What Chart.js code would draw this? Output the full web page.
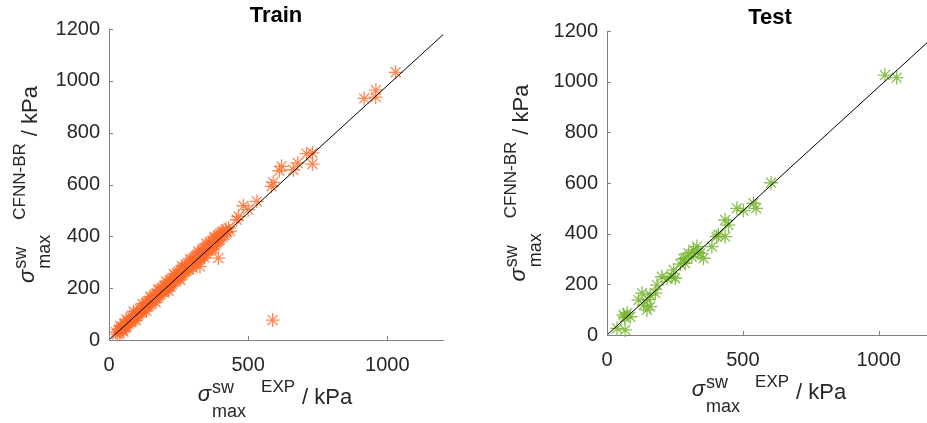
<!DOCTYPE html>
<html>
<head>
<meta charset="utf-8">
<script src="https://cdn.jsdelivr.net/npm/chart.js@4.4.1/dist/chart.umd.min.js"></script>
<style>
  html, body { margin: 0; padding: 0; background: #fff; overflow: hidden; }
  #wrap { position: relative; width: 927px; height: 423px; overflow: hidden; }
  canvas { position: absolute; top: 0; }
  #train { left: 0; }
  #test { left: 470px; }
</style>
</head>
<body>
<div id="wrap">
  <canvas id="train" width="470" height="423"></canvas>
  <canvas id="test" width="480" height="423"></canvas>
</div>
<script>
// measured (EXP) vs predicted (CFNN-BR) max swelling pressure, kPa
const trainX = [
  25, 30, 35, 38, 42, 45, 48, 50, 55, 58, 60, 63, 66, 70, 72, 75, 78, 80, 84, 86,
  90, 92, 95, 98, 100, 104, 106, 110, 112, 115, 118, 120, 124, 126, 130, 132, 135, 138, 140, 144,
  146, 150, 152, 155, 158, 160, 164, 166, 170, 172, 175, 178, 180, 184, 186, 190, 192, 195, 198, 200,
  204, 206, 210, 212, 215, 218, 220, 224, 226, 230, 232, 235, 238, 240, 244, 246, 250, 252, 255, 258,
  260, 264, 266, 270, 272, 275, 278, 280, 284, 286, 290, 292, 295, 298, 300, 304, 306, 310, 312, 315,
  318, 320, 324, 326, 330, 332, 335, 338, 340, 344, 346, 350, 352, 355, 358, 360, 364, 366, 370, 372,
  375, 378, 380, 384, 386, 390, 392, 395, 398, 400, 404, 408, 410, 415, 420, 425, 430, 435,
  40, 62, 88, 120, 148, 176, 205, 233, 262, 291, 320, 349, 378, 52, 96, 134, 168, 214, 256, 302, 342, 372,
  327, 393, 459, 465, 483, 500, 531, 584, 590, 588, 612, 620, 662, 678, 710, 731, 731,
  917, 958, 959, 1030
];
const trainY = [
  30, 22, 40, 28, 45, 36, 52, 40, 48, 60, 50, 55, 70, 62, 75, 68, 80, 72, 88, 78,
  95, 84, 90, 102, 92, 110, 98, 105, 118, 108, 122, 112, 130, 118, 125, 140, 128, 145, 132, 150,
  138, 145, 160, 148, 165, 152, 170, 158, 162, 180, 168, 190, 172, 195, 176, 185, 200, 186, 208, 190,
  212, 196, 202, 220, 205, 228, 210, 232, 215, 222, 240, 226, 248, 230, 255, 236, 242, 262, 246, 270,
  250, 275, 255, 262, 282, 265, 290, 270, 295, 274, 282, 302, 285, 310, 290, 315, 295, 300, 322, 305,
  330, 308, 336, 314, 320, 342, 325, 350, 328, 355, 332, 340, 362, 345, 370, 348, 375, 352, 360, 382,
  365, 390, 366, 395, 372, 380, 402, 385, 410, 388, 415, 398, 420, 405, 428, 415, 432, 420,
  55, 80, 110, 140, 168, 195, 226, 255, 285, 312, 342, 372, 398, 32, 76, 112, 145, 190, 232, 278, 318, 350,
  283, 316, 464, 477, 518, 503, 535, 593, 608, 77, 653, 670, 657, 683, 719, 722, 679,
  932, 937, 964, 1033
];

const testX = [
  1023, 1066, 604, 549, 502, 478, 539, 435, 447, 435, 404, 410, 386, 343, 355, 318, 300, 288, 288, 312,
  331, 335, 282, 270, 245, 239, 251, 221, 202, 184, 178, 159, 129, 116, 135, 159, 147, 150, 61, 74,
  86, 65, 37, 67
];
const testY = [
  1026, 1016, 601, 500, 491, 500, 520, 454, 434, 388, 388, 395, 349, 322, 303, 336, 322, 303, 283, 309,
  349, 325, 300, 280, 257, 230, 224, 224, 230, 197, 165, 158, 165, 138, 118, 112, 99, 140, 79, 86,
  72, 70, 26, 20
];

// reference fit lines
const trainFitX = [0, 1200];
const trainFitY = [0, 1178];
const testFitX = [0, 1200];
const testFitY = [0, 1175];

const xTicks = [0, 500, 1000];
const yTicks = [0, 200, 400, 600, 800, 1000, 1200];

const FONT = "'Liberation Sans', Arial, Helvetica, sans-serif";
const AXIS_COLOR = '#808080';
const TEXT_COLOR = '#262626';

const toPoints = (xs, ys) => xs.map((v, i) => ({ x: v, y: ys[i] }));

// label pieces: main symbol with super/subscripts, then unit
const xLabelParts = [
  { text: 'σ', size: 22, italic: true },
  { text: 'sw', size: 18, gap: 1, shift: -8 },
  { text: 'max', size: 18, sameAsPrev: true, shift: 16 },
  { text: 'EXP', size: 17, gap: 15, shift: -9 },
  { text: '/ kPa', size: 22, gap: 7, shift: 3 }
];
const yLabelParts = [
  { text: 'σ', size: 22, italic: true },
  { text: 'sw', size: 18, gap: 1, shift: -8 },
  { text: 'max', size: 18, sameAsPrev: true, shift: 16 },
  { text: 'CFNN-BR', size: 17, gap: 15, shift: -9 },
  { text: '/ kPa', size: 22, gap: 7, shift: 3 }
];

function layoutParts(ctx, parts) {
  let prevStart = 0, maxEnd = 0;
  const laid = parts.map(p => {
    ctx.font = (p.italic ? 'italic ' : '') + p.size + 'px ' + FONT;
    const w = ctx.measureText(p.text).width;
    const start = p.sameAsPrev ? prevStart : maxEnd + (p.gap || 0);
    prevStart = start;
    maxEnd = Math.max(maxEnd, start + w);
    return { ...p, start, width: w, font: ctx.font };
  });
  return { laid, total: maxEnd };
}

function drawParts(ctx, parts, cx, cy, rotated) {
  const { laid, total } = layoutParts(ctx, parts);
  ctx.save();
  ctx.translate(cx, cy);
  if (rotated) ctx.rotate(-Math.PI / 2);
  ctx.fillStyle = TEXT_COLOR;
  ctx.textBaseline = 'alphabetic';
  ctx.textAlign = 'left';
  laid.forEach(p => {
    ctx.font = p.font;
    ctx.fillText(p.text, p.start - total / 2, p.shift || 0);
  });
  ctx.restore();
}

const decor = {
  id: 'decor',
  afterDraw(chart, args, opts) {
    const { ctx, chartArea: area, scales: { x, y } } = chart;
    ctx.save();
    // inward tick marks
    ctx.strokeStyle = AXIS_COLOR;
    ctx.lineWidth = 1;
    ctx.beginPath();
    x.ticks.forEach(t => {
      const px = Math.round(x.getPixelForValue(t.value)) + 0.5;
      ctx.moveTo(px, area.bottom);
      ctx.lineTo(px, area.bottom - 4);
    });
    y.ticks.forEach(t => {
      const py = Math.round(y.getPixelForValue(t.value)) + 0.5;
      ctx.moveTo(area.left, py);
      ctx.lineTo(area.left + 4, py);
    });
    ctx.stroke();

    // title
    ctx.fillStyle = '#000';
    ctx.font = 'bold 22px ' + FONT;
    ctx.textAlign = 'center';
    ctx.textBaseline = 'alphabetic';
    ctx.fillText(opts.title, (area.left + area.right) / 2, area.top - 7);
    ctx.restore();

    drawParts(ctx, xLabelParts, (area.left + area.right) / 2 + opts.xLabelDx, area.bottom + opts.xLabelDy, false);
    drawParts(ctx, yLabelParts, opts.yLabelX, (area.top + area.bottom) / 2, true);
  }
};

function makeChart(id, xs, ys, fitX, fitY, color, cfg) {
  new Chart(document.getElementById(id), {
    type: 'scatter',
    data: {
      datasets: [
        {
          type: 'line',
          data: toPoints(fitX, fitY),
          borderColor: '#000',
          borderWidth: 1,
          pointRadius: 0,
          fill: false
        },
        {
          data: toPoints(xs, ys),
          pointStyle: 'star',
          pointRadius: 7,
          borderColor: color,
          backgroundColor: color,
          borderWidth: 1.3,
          clip: false
        }
      ]
    },
    options: {
      responsive: false,
      animation: false,
      devicePixelRatio: 1,
      layout: { padding: cfg.padding },
      plugins: {
        legend: { display: false },
        tooltip: { enabled: false },
        decor: cfg.decor
      },
      scales: {
        x: {
          type: 'linear',
          min: 0,
          max: 1200,
          afterBuildTicks: s => { s.ticks = xTicks.map(v => ({ value: v })); },
          afterFit: s => { s.height = cfg.xHeight; },
          grid: { display: false, drawTicks: false },
          border: { display: true, color: AXIS_COLOR, width: 1 },
          ticks: { padding: 13, color: TEXT_COLOR, font: { family: FONT, size: 20 }, callback: v => String(v) }
        },
        y: {
          type: 'linear',
          min: 0,
          max: 1200,
          afterBuildTicks: s => { s.ticks = yTicks.map(v => ({ value: v })); },
          afterFit: s => { s.width = cfg.yWidth; },
          grid: { display: false, drawTicks: false },
          border: { display: true, color: AXIS_COLOR, width: 1 },
          ticks: { padding: 9, color: TEXT_COLOR, font: { family: FONT, size: 20 }, callback: v => String(v) }
        }
      }
    },
    plugins: [decor]
  });
}

makeChart('train', trainX, trainY, trainFitX, trainFitY, 'rgba(255,106,43,0.8)', {
  padding: { left: 0, right: 27, top: 29, bottom: 0 },
  xHeight: 83,
  yWidth: 109,
  decor: { title: 'Train', xLabelDx: -1, xLabelDy: 61, yLabelX: 34 }
});

makeChart('test', testX, testY, testFitX, testFitY, 'rgba(118,181,47,0.85)', {
  padding: { left: 0, right: 17, top: 31, bottom: 0 },
  xHeight: 88,
  yWidth: 137,
  decor: { title: 'Test', xLabelDx: -1, xLabelDy: 61, yLabelX: 55 }
});
</script>
</body>
</html>
